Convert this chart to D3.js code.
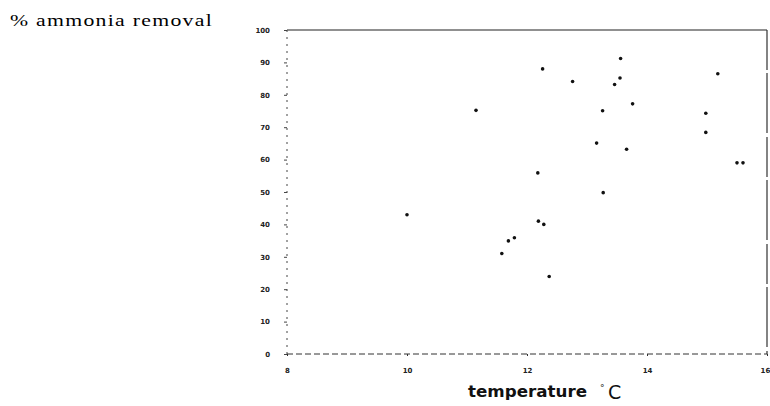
<!DOCTYPE html>
<html>
<head>
<meta charset="utf-8">
<script src="https://cdn.jsdelivr.net/npm/d3@7"></script>
<style>
  body { margin: 0; background: #fff; }
</style>
</head>
<body>
<div id="chart"></div>
<script>
// temperature (°C) vs % ammonia removal
const temperature = [10.0, 11.15, 11.58, 11.69, 11.79, 12.18, 12.19, 12.26, 12.28, 12.37,
  12.76, 13.16, 13.26, 13.27, 13.46, 13.55, 13.56, 13.66, 13.76, 14.98, 14.98, 15.18, 15.5, 15.6];
const removal = [43.0, 75.2, 31.0, 34.9, 35.9, 55.9, 41.0, 88.0, 40.0, 23.9,
  84.1, 65.1, 75.1, 49.8, 83.2, 85.2, 91.2, 63.2, 77.2, 74.3, 68.4, 86.5, 59.0, 59.0];

const xTicks = [8, 10, 12, 14, 16];
const yTicks = [0, 10, 20, 30, 40, 50, 60, 70, 80, 90, 100];

const width = 770, height = 406;
const margin = { top: 30, right: 3, bottom: 52, left: 287 };

const svg = d3.select("#chart")
  .append("svg")
  .attr("width", width)
  .attr("height", height);

const x = d3.scaleLinear()
  .domain([8, 16])
  .range([margin.left, width - margin.right]);

const y = d3.scaleLinear()
  .domain([0, 100])
  .range([height - margin.bottom, margin.top]);

// frame: top and right solid, left and bottom broken like the scan
svg.append("line")
  .attr("x1", x(8)).attr("x2", x(16))
  .attr("y1", y(100)).attr("y2", y(100))
  .attr("stroke", "#222").attr("stroke-width", 1.2);

svg.append("line")
  .attr("x1", x(16)).attr("x2", x(16))
  .attr("y1", y(100)).attr("y2", y(0))
  .attr("stroke", "#333").attr("stroke-width", 1.2)
  .attr("stroke-dasharray", "40,3,60,4");

svg.append("line")
  .attr("x1", x(8)).attr("x2", x(8))
  .attr("y1", y(100)).attr("y2", y(0))
  .attr("stroke", "#444").attr("stroke-width", 1)
  .attr("stroke-dasharray", "2,5");

svg.append("line")
  .attr("x1", x(8)).attr("x2", x(16))
  .attr("y1", y(0)).attr("y2", y(0))
  .attr("stroke", "#333").attr("stroke-width", 1)
  .attr("stroke-dasharray", "6,3");

// y axis
const yAxis = svg.append("g")
  .attr("transform", `translate(${x(8)},0)`)
  .call(d3.axisLeft(y).tickValues(yTicks).tickSize(3).tickPadding(14));
yAxis.select(".domain").remove();
yAxis.selectAll("line").attr("stroke", "#444");
yAxis.selectAll("text")
  .style("font-family", "DejaVu Sans")
  .style("font-size", "7px")
  .style("font-weight", "bold")
  .attr("fill", "#222");

// x axis
const xAxis = svg.append("g")
  .attr("transform", `translate(0,${y(0)})`)
  .call(d3.axisBottom(x).tickValues(xTicks).tickSize(2).tickPadding(12));
xAxis.select(".domain").remove();
xAxis.selectAll("line").attr("stroke", "#333");
xAxis.selectAll("text")
  .style("font-family", "DejaVu Sans")
  .style("font-size", "7px")
  .style("font-weight", "bold")
  .attr("fill", "#222");
// last label sits on the page edge, keep it inside
xAxis.selectAll("text")
  .filter(d => d === 16)
  .attr("text-anchor", "end")
  .attr("dx", "0.4em");

// points
svg.append("g")
  .selectAll("circle")
  .data(temperature.map((t, i) => ({ t: t, r: removal[i] })))
  .enter()
  .append("circle")
  .attr("cx", d => x(d.t))
  .attr("cy", d => y(d.r))
  .attr("r", 1.8)
  .attr("fill", "#111");

// axis titles
svg.append("text")
  .attr("x", 10)
  .attr("y", 26)
  .attr("textLength", 203)
  .attr("lengthAdjust", "spacingAndGlyphs")
  .style("font-family", "Liberation Serif")
  .style("font-size", "17px")
  .style("letter-spacing", "1px")
  .attr("fill", "#000")
  .text("% ammonia removal");

svg.append("text")
  .attr("x", 468)
  .attr("y", 397)
  .attr("textLength", 119)
  .attr("lengthAdjust", "spacingAndGlyphs")
  .style("font-family", "DejaVu Sans")
  .style("font-size", "16px")
  .style("font-weight", "bold")
  .attr("fill", "#111")
  .text("temperature");

svg.append("text")
  .attr("x", 600)
  .attr("y", 391)
  .style("font-family", "DejaVu Sans")
  .style("font-size", "9px")
  .attr("fill", "#111")
  .text("°");

svg.append("text")
  .attr("x", 608)
  .attr("y", 399)
  .style("font-family", "DejaVu Sans")
  .style("font-size", "19px")
  .attr("fill", "#111")
  .text("C");
</script>
</body>
</html>
